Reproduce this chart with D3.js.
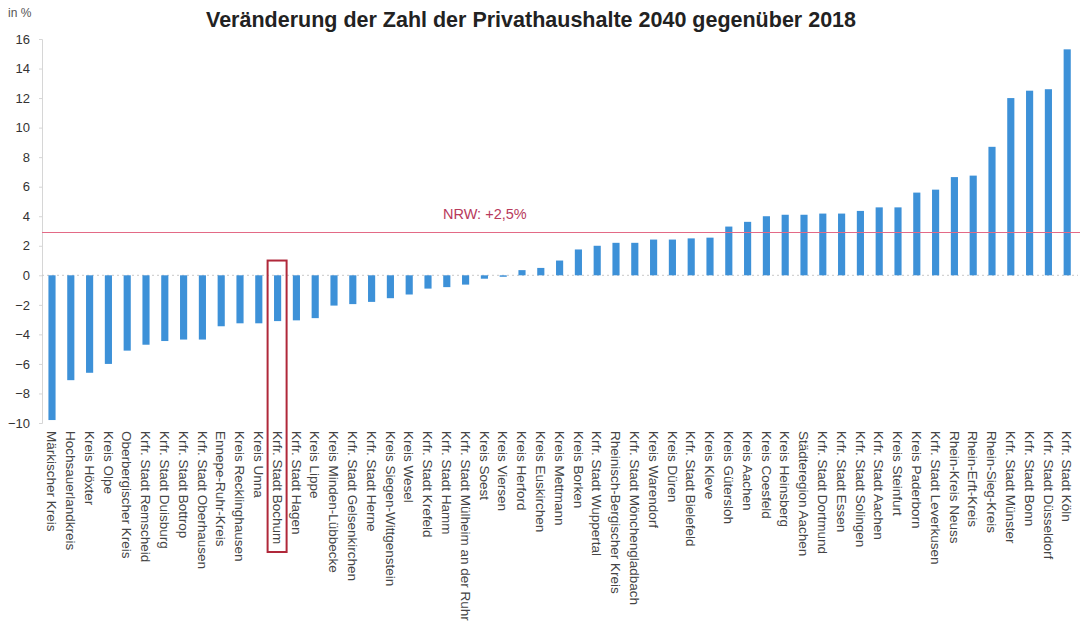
<!DOCTYPE html>
<html>
<head>
<meta charset="utf-8">
<script src="https://cdn.jsdelivr.net/npm/d3@7"></script>
<style>
  body { margin: 0; background: #fff; }
  svg { display: block; font-family: "Liberation Sans", Arial, sans-serif; }
</style>
</head>
<body>
<div id="chart-area"></div>
<script>
const WIDTH = 1080;
const HEIGHT = 628;

const regions = [
  "Märkischer Kreis", "Hochsauerlandkreis", "Kreis Höxter", "Kreis Olpe", "Oberbergischer Kreis",
  "Krfr. Stadt Remscheid", "Krfr. Stadt Duisburg", "Krfr. Stadt Bottrop", "Krfr. Stadt Oberhausen",
  "Ennepe-Ruhr-Kreis", "Kreis Recklinghausen", "Kreis Unna", "Krfr. Stadt Bochum", "Krfr. Stadt Hagen",
  "Kreis Lippe", "Kreis Minden-Lübbecke", "Krfr. Stadt Gelsenkirchen", "Krfr. Stadt Herne",
  "Kreis Siegen-Wittgenstein", "Kreis Wesel", "Krfr. Stadt Krefeld", "Krfr. Stadt Hamm",
  "Krfr. Stadt Mülheim an der Ruhr", "Kreis Soest", "Kreis Viersen", "Kreis Herford",
  "Kreis Euskirchen", "Kreis Mettmann", "Kreis Borken", "Krfr. Stadt Wuppertal",
  "Rheinisch-Bergischer Kreis", "Krfr. Stadt Mönchengladbach", "Kreis Warendorf", "Kreis Düren",
  "Krfr. Stadt Bielefeld", "Kreis Kleve", "Kreis Gütersloh", "Kreis Aachen", "Kreis Coesfeld",
  "Kreis Heinsberg", "Städteregion Aachen", "Krfr. Stadt Dortmund", "Krfr. Stadt Essen",
  "Krfr. Stadt Solingen", "Krfr. Stadt Aachen", "Kreis Steinfurt", "Kreis Paderborn",
  "Krfr. Stadt Leverkusen", "Rhein-Kreis Neuss", "Rhein-Erft-Kreis", "Rhein-Sieg-Kreis",
  "Krfr. Stadt Münster", "Krfr. Stadt Bonn", "Krfr. Stadt Düsseldorf", "Krfr. Stadt Köln"
];

const changes = [
  -9.8, -7.1, -6.6, -6.0, -5.1, -4.7, -4.45, -4.35, -4.35, -3.45, -3.25, -3.25, -3.1, -3.05,
  -2.9, -2.05, -1.95, -1.8, -1.55, -1.3, -0.9, -0.8, -0.63, -0.23, -0.1, 0.35, 0.5, 1.0,
  1.75, 2.0, 2.2, 2.2, 2.42, 2.42, 2.5, 2.55, 3.3, 3.62, 4.0, 4.1, 4.1, 4.18, 4.18, 4.36,
  4.6, 4.6, 5.6, 5.8, 6.65, 6.75, 8.7, 12.0, 12.5, 12.6, 15.3
];

const yTicks = [-10, -8, -6, -4, -2, 0, 2, 4, 6, 8, 10, 12, 14, 16];
const nrwValue = 2.9;
const nrwLabel = "NRW: +2,5%";
const highlighted = "Krfr. Stadt Bochum";

const data = regions.map((r, i) => ({ region: r, value: changes[i] }));

const svg = d3.select("#chart-area").append("svg").attr("width", WIDTH).attr("height", HEIGHT);

const x = d3.scaleBand().domain(regions).range([42.6, 1076.6]).paddingInner(0.62).paddingOuter(0.31);
const y = d3.scaleLinear().domain([-10, 16]).range([423, 39]);

// title
svg.append("text").
    attr("x", 531).
    attr("y", 27).
    attr("text-anchor", "middle").
    attr("font-size", "21.5px").
    attr("font-weight", "bold").
    style("fill", "#222").
    text("Veränderung der Zahl der Privathaushalte 2040 gegenüber 2018");

svg.append("text").
    attr("x", 8).
    attr("y", 17).
    attr("font-size", "12px").
    style("fill", "#555").
    text("in %");

// y axis
const yAxisGroup = svg.append("g").attr("transform", "translate(42,0)").
    call(d3.axisLeft(y).tickValues(yTicks).tickSize(3).tickPadding(9).tickFormat(d3.format("d")));
yAxisGroup.select(".domain").attr("stroke", "#d6d6d6");
yAxisGroup.selectAll(".tick line").attr("stroke", "#d6d6d6");
yAxisGroup.selectAll(".tick text").attr("font-size", "13px").attr("fill", "#333").
    attr("font-family", "Liberation Sans, Arial, sans-serif");

// zero line
svg.append("line").
    attr("x1", 42).attr("x2", 1078).
    attr("y1", y(0)).attr("y2", y(0)).
    attr("stroke", "#c8c8c8").
    attr("stroke-dasharray", "2,3");

// bars
svg.selectAll("rect.bar").data(data).enter().append("rect").
    attr("class", "bar").
    attr("x", d => x(d.region)).
    attr("width", x.bandwidth()).
    attr("y", d => y(Math.max(0, d.value))).
    attr("height", d => Math.abs(y(d.value) - y(0))).
    attr("fill", "#3d91d8");

// NRW reference line
svg.append("line").
    attr("x1", 42).attr("x2", 1080).
    attr("y1", y(nrwValue)).attr("y2", y(nrwValue)).
    attr("stroke", "#e36a86").
    attr("stroke-width", 1.2);

svg.append("text").
    attr("x", 443).
    attr("y", y(nrwValue) - 13).
    attr("font-size", "14.5px").
    style("fill", "#b83a5c").
    text(nrwLabel);

// category labels
const xAxisGroup = svg.append("g").attr("transform", "translate(0,431)");
xAxisGroup.selectAll("text").data(regions).enter().append("text").
    attr("transform", d => `translate(${x(d) + x.bandwidth() / 2},0) rotate(90)`).
    attr("dy", "0.35em").
    attr("font-size", "13.5px").
    style("fill", "#444").
    text(d => d);

// highlight box
svg.append("rect").
    attr("x", x(highlighted) + x.bandwidth() / 2 - 10).
    attr("y", y(1)).
    attr("width", 19).
    attr("height", 552 - y(1)).
    attr("fill", "none").
    attr("stroke", "#b0283a").
    attr("stroke-width", 2);
</script>
</body>
</html>
